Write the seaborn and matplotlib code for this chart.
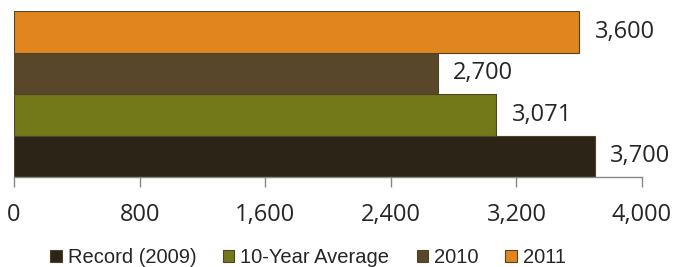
import matplotlib

matplotlib.use("Agg")
import matplotlib.pyplot as plt
import seaborn as sns
from matplotlib.patches import Patch

# data
categories = ["Record (2009)", "10-Year Average", "2010", "2011"]
values = [3700, 3071, 2700, 3600]
colors = ["#2c2416", "#737819", "#58472b", "#e1861e"]
xticks = [0, 800, 1600, 2400, 3200, 4000]

sns.set_style("white")
plt.rcParams["font.family"] = ["Open Sans", "DejaVu Sans"]

fig = plt.figure(figsize=(6.74, 2.67), dpi=100)
ax = fig.add_axes([0.0208, 0.337, 0.9318, 0.6217])

sns.barplot(
    x=values,
    y=categories,
    hue=categories,
    palette=colors,
    saturation=1,
    order=categories[::-1],
    hue_order=categories,
    orient="h",
    width=1,
    legend=False,
    edgecolor="#4f4526",
    linewidth=0.8,
    ax=ax,
)

for c in ax.containers:
    ax.bar_label(c, labels=[f"{v:,.0f}" for v in c.datavalues], padding=11, fontsize=17)

ax.set_xlim(0, 4000)
ax.set_ylim(3.5, -0.5)
ax.set_xticks(xticks)
ax.set_xticklabels([f"{t:,}" for t in xticks], fontsize=17)
ax.set_yticks([])
ax.set_xlabel("")
ax.set_ylabel("")
for s in ["top", "right", "left"]:
    ax.spines[s].set_visible(False)
ax.spines["bottom"].set_color("#868686")
ax.spines["bottom"].set_linewidth(1)
ax.tick_params(axis="x", direction="out", length=7, width=1, color="#868686", pad=12, bottom=True)

handles = [Patch(facecolor=col, edgecolor="#4f4526", linewidth=0.8) for col in colors]
fig.legend(
    handles,
    categories,
    loc="center",
    bbox_to_anchor=(0.457, 0.034),
    ncol=4,
    frameon=False,
    prop={"family": "Liberation Sans", "size": 14.5},
    handlelength=0.55,
    handleheight=0.55,
    handletextpad=0.3,
    columnspacing=1.35,
    borderaxespad=0,
)

fig.savefig("out.png", dpi=100)
